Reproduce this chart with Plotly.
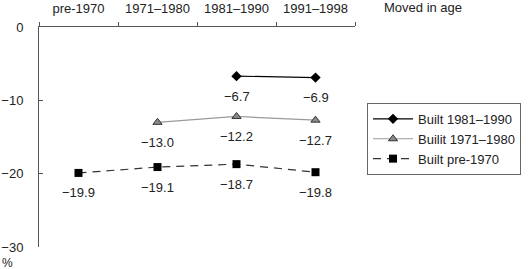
import plotly.graph_objects as go

categories = ["pre-1970", "1971–1980", "1981–1990", "1991–1998"]
built_1981_1990 = [None, None, -6.7, -6.9]
built_1971_1980 = [None, -13.0, -12.2, -12.7]
built_pre_1970 = [-19.9, -19.1, -18.7, -19.8]
series_names = ["Built 1981–1990", "Builit 1971–1980", "Built pre-1970"]
y_ticks = [0, -10, -20, -30]

FONT = "Liberation Sans, Arial, sans-serif"
FS = 13

fig = go.Figure()
fig.add_trace(go.Scatter(
    x=categories, y=built_1981_1990, name=series_names[0], mode="lines+markers",
    line=dict(color="#000000", width=1.2),
    marker=dict(symbol="diamond", size=8, color="#000000"),
))
fig.add_trace(go.Scatter(
    x=categories, y=built_1971_1980, name=series_names[1], mode="lines+markers",
    line=dict(color="#9a9a9a", width=1.2),
    marker=dict(symbol="triangle-up", size=8, color="#8a8a8a", line=dict(color="#333333", width=1)),
))
fig.add_trace(go.Scatter(
    x=categories, y=built_pre_1970, name=series_names[2], mode="lines+markers",
    line=dict(color="#333333", width=1.2, dash="8px,6px"),
    marker=dict(symbol="square", size=8, color="#000000"),
))

annotations = []
for vals in (built_1981_1990, built_1971_1980, built_pre_1970):
    for c, v in zip(categories, vals):
        if v is None:
            continue
        annotations.append(dict(
            x=c, y=v, xref="x", yref="y", text=f"{v:.1f}".replace("-", "−"),
            showarrow=False, yshift=-20, font=dict(size=FS, color="#222222", family=FONT),
        ))
annotations.append(dict(x=1.085, y=1.09, xref="paper", yref="paper", text="Moved in age",
                        showarrow=False, xanchor="left", yanchor="middle",
                        font=dict(size=FS, color="#222222", family=FONT)))
annotations.append(dict(x=-0.124, y=-0.03, xref="paper", yref="paper", text="%",
                        showarrow=False, xanchor="left", yanchor="top",
                        font=dict(size=12, color="#222222", family=FONT)))

fig.update_layout(
    width=529, height=269,
    margin=dict(l=39, r=174, t=27, b=22, autoexpand=False),
    paper_bgcolor="white", plot_bgcolor="white",
    font=dict(family=FONT, size=FS, color="#222222"),
    showlegend=True,
    legend=dict(x=1.038, y=0.655, xanchor="left", yanchor="top",
                bordercolor="#666666", borderwidth=1, bgcolor="white",
                font=dict(size=FS, family=FONT), itemwidth=40, tracegroupgap=0),
    annotations=annotations,
)
fig.update_xaxes(
    type="category", categoryorder="array", categoryarray=categories,
    range=[-0.5, 3.5], side="top", showline=True, linecolor="#555555", linewidth=1,
    ticks="outside", ticklen=4, tickcolor="#555555", tickson="boundaries",
    showgrid=False, zeroline=False, fixedrange=True, ticklabelstandoff=8,
    automargin=False,
)
fig.update_yaxes(
    range=[-30, 0], tickvals=y_ticks, showline=True, linecolor="#555555", linewidth=1,
    ticks="inside", ticklen=4, tickcolor="#555555", showgrid=False, zeroline=False,
    ticklabelstandoff=12, automargin=False,
)

fig.write_html("out.html")
